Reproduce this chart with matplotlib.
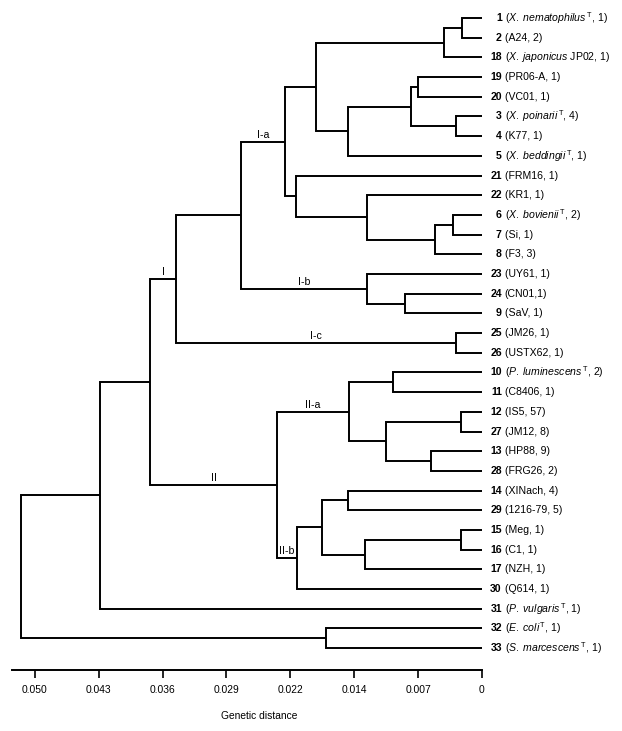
import matplotlib.pyplot as plt

plt.rcParams['font.family'] = ['Liberation Sans']
plt.rcParams['mathtext.fontset'] = 'custom'
plt.rcParams['mathtext.rm'] = 'Liberation Sans'
plt.rcParams['mathtext.it'] = 'Liberation Sans:italic'
plt.rcParams['mathtext.bf'] = 'Liberation Sans:bold'

# leaves, top to bottom
leaf_ids = [1, 2, 18, 19, 20, 3, 4, 5, 21, 22, 6, 7, 8, 23, 24, 9, 25, 26,
            10, 11, 12, 27, 13, 28, 14, 29, 15, 16, 17, 30, 31, 32, 33]
leaf_text = [
    r'($\mathit{X.}\;\mathit{nematophilus}\,^{\mathrm{T}}$, 1)',
    '(A24, 2)',
    r'($\mathit{X.}\;\mathit{japonicus}$ JP02, 1)',
    '(PR06-A, 1)',
    '(VC01, 1)',
    r'($\mathit{X.}\;\mathit{poinarii}\,^{\mathrm{T}}$, 4)',
    '(K77, 1)',
    r'($\mathit{X.}\;\mathit{beddingii}\,^{\mathrm{T}}$, 1)',
    '(FRM16, 1)',
    '(KR1, 1)',
    r'($\mathit{X.}\;\mathit{bovienii}\,^{\mathrm{T}}$, 2)',
    '(Si, 1)',
    '(F3, 3)',
    '(UY61, 1)',
    '(CN01,1)',
    '(SaV, 1)',
    '(JM26, 1)',
    '(USTX62, 1)',
    r'($\mathit{P.}\;\mathit{luminescens}\,^{\mathrm{T}}$, 2)',
    '(C8406, 1)',
    '(IS5, 57)',
    '(JM12, 8)',
    '(HP88, 9)',
    '(FRG26, 2)',
    '(XINach, 4)',
    '(1216-79, 5)',
    '(Meg, 1)',
    '(C1, 1)',
    '(NZH, 1)',
    '(Q614, 1)',
    r'($\mathit{P.}\;\mathit{vulgaris}\,^{\mathrm{T}}$, 1)',
    r'($\mathit{E.}\;\mathit{coli}\,^{\mathrm{T}}$, 1)',
    r'($\mathit{S.}\;\mathit{marcescens}\,^{\mathrm{T}}$, 1)',
]

# (node, child a, child b, genetic distance)
merges = [
    ('a', 1, 2, 0.0022), ('b', 'a', 18, 0.0043),
    ('c', 19, 20, 0.0072), ('d', 3, 4, 0.0029), ('e', 'c', 'd', 0.0079),
    ('f', 'e', 5, 0.0150), ('g', 'b', 'f', 0.0186),
    ('h', 6, 7, 0.0032), ('i', 'h', 8, 0.0053), ('j', 22, 'i', 0.0129),
    ('k', 21, 'j', 0.0208), ('Ia', 'g', 'k', 0.0220),
    ('l', 24, 9, 0.0086), ('Ib', 23, 'l', 0.0129),
    ('m', 'Ia', 'Ib', 0.0269), ('Ic', 25, 26, 0.0029),
    ('I', 'm', 'Ic', 0.0342),
    ('n', 10, 11, 0.0099), ('o', 12, 27, 0.0023), ('p', 13, 28, 0.0057),
    ('q', 'o', 'p', 0.0107), ('IIa', 'n', 'q', 0.0149),
    ('r', 14, 29, 0.0150), ('s', 15, 16, 0.0024), ('t', 's', 17, 0.0131),
    ('u', 'r', 't', 0.0179), ('IIb', 'u', 30, 0.0207),
    ('II', 'IIa', 'IIb', 0.0229),
    ('v', 'I', 'II', 0.0371), ('w', 'v', 31, 0.0427),
    ('x', 32, 33, 0.0174), ('root', 'w', 'x', 0.0516),
]

clade_labels = {'Ia': 'I-a', 'Ib': 'I-b', 'Ic': 'I-c', 'I': 'I',
                'IIa': 'II-a', 'IIb': 'II-b', 'II': 'II'}

tick_labels = ['0', '0.007', '0.014', '0.022', '0.029', '0.036', '0.043', '0.050']
max_dist = 0.05

fig = plt.figure(figsize=(6.22, 7.31), dpi=100)
ax = fig.add_axes([0, 0, 1, 1])
lw = 1.4
fs = 7.6

pos = {}
for i, lid in enumerate(leaf_ids):
    pos[lid] = (0.0, i)
parent_h = {}
for name, a, b, h in merges:
    ha, ya = pos[a]
    hb, yb = pos[b]
    ax.plot([ha, h, h, hb], [ya, ya, yb, yb], color='black', lw=lw,
            solid_joinstyle='miter', solid_capstyle='butt')
    parent_h[a] = h
    parent_h[b] = h
    pos[name] = (h, (ya + yb) / 2)

# clade names above their branches
for node, lab in clade_labels.items():
    h, y = pos[node]
    xm = (h + parent_h[node]) / 2
    ax.annotate(lab, (xm, y), xytext=(0, 1.5), textcoords='offset points',
                ha='center', va='bottom', fontsize=fs)

# leaf labels
for i, (lid, txt) in enumerate(zip(leaf_ids, leaf_text)):
    ax.annotate(str(lid), (0, i), xytext=(14.3, 0), textcoords='offset points',
                ha='right', va='center', fontsize=fs, fontweight='bold')
    ax.annotate(txt, (0, i), xytext=(16.4, 0), textcoords='offset points',
                ha='left', va='center', fontsize=fs)

ax.set_xlim(0.0539, -0.01566)
ax.set_ylim(36.21, -0.914)

for s in ['left', 'top', 'right']:
    ax.spines[s].set_visible(False)
ax.spines['bottom'].set_position(('data', 33.11))
ax.spines['bottom'].set_bounds(-0.0, 0.0526)
ax.spines['bottom'].set_linewidth(lw)
ax.set_yticks([])
ax.set_xticks([k * max_dist / 7 for k in range(8)])
ax.set_xticklabels(tick_labels, fontsize=7.4)
ax.tick_params(axis='x', direction='out', length=5.8, width=1.2, pad=5)
ax.set_xlabel('Genetic distance', fontsize=7.4)
ax.xaxis.set_label_coords(259 / 622, 1 - 711 / 731)

fig.savefig('out.png', dpi=100)
